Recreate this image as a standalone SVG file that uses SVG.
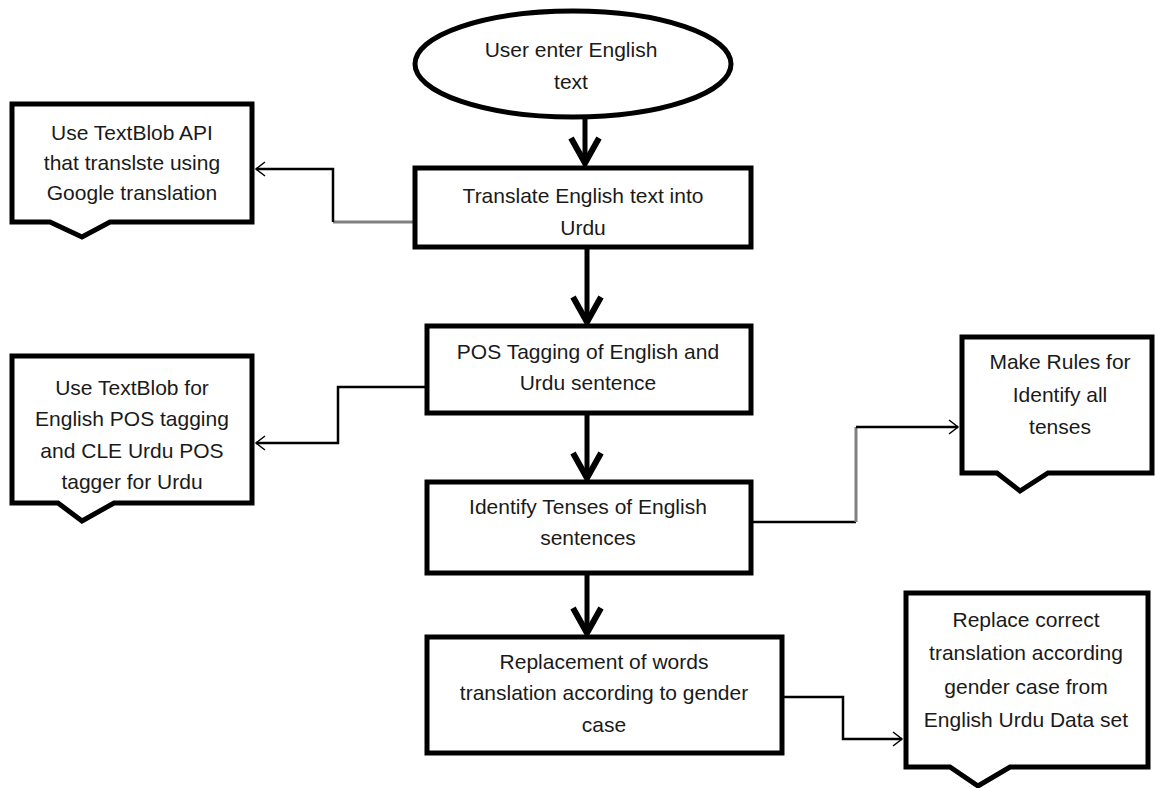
<svg xmlns="http://www.w3.org/2000/svg" width="1155" height="788" viewBox="0 0 1155 788">
<defs>
<style>
.shape{fill:#fff;stroke:#000;stroke-width:5;stroke-linejoin:miter}
.t{font-family:"Liberation Sans",Arial,sans-serif;font-size:21px;fill:#1a1a1a;text-anchor:middle}
.flow{fill:none;stroke:#000;stroke-width:5}
.head{fill:none;stroke:#000;stroke-width:6;stroke-linejoin:miter;stroke-linecap:butt}
.conn{fill:none;stroke:#000;stroke-width:2.5}
.gray{fill:none;stroke:#808080;stroke-width:3}
.open{fill:none;stroke:#000;stroke-width:1.5}
</style>
</defs>
<rect width="1155" height="788" fill="#fff"/>

<g id="connectors">
  <line class="flow" x1="585" y1="118" x2="585" y2="162"/>
  <polyline class="head" points="571,138 585,163 599,138"/>
  <line class="flow" x1="587" y1="248" x2="587" y2="321"/>
  <polyline class="head" points="573,297 587,322 601,297"/>
  <line class="flow" x1="587" y1="413" x2="587" y2="477"/>
  <polyline class="head" points="573,453 587,478 601,453"/>
  <line class="flow" x1="587" y1="573" x2="587" y2="632"/>
  <polyline class="head" points="573,608 587,633 601,608"/>
  <polyline class="gray" points="415,222 333,222"/>
  <polyline class="conn" points="333,222 333,169 256,169"/>
  <polyline class="open" points="265,162 256,169 265,176"/>
  <polyline class="conn" points="427,387 338,387 338,443 256,443"/>
  <polyline class="open" points="265,436 256,443 265,450"/>
  <polyline class="conn" points="752,522 856,522"/>
  <polyline class="gray" points="856,522 856,427"/>
  <polyline class="conn" points="856,427 958,427"/>
  <polyline class="open" points="949,420 958,427 949,434"/>
  <polyline class="conn" points="782,697 843,697 843,739 902,739"/>
  <polyline class="open" points="893,732 902,739 893,746"/>
</g>

<g id="start">
  <ellipse class="shape" cx="573" cy="64" rx="158" ry="53"/>
  <text class="t" x="571" y="57">User enter English</text>
  <text class="t" x="571" y="89">text</text>
</g>

<g id="translate">
  <rect class="shape" x="415" y="168" width="336" height="79"/>
  <text class="t" x="583" y="203">Translate English text into</text>
  <text class="t" x="583" y="235">Urdu</text>
</g>

<g id="note-textblob-api">
  <path class="shape" d="M12,104 H252 V222 H110 L82,237 L50,222 H12 Z"/>
  <text class="t" x="132" y="140">Use TextBlob API</text>
  <text class="t" x="132" y="170">that translste using</text>
  <text class="t" x="132" y="200">Google translation</text>
</g>

<g id="pos-tagging">
  <rect class="shape" x="427" y="326" width="324" height="87"/>
  <text class="t" x="588" y="359">POS Tagging of English and</text>
  <text class="t" x="588" y="390">Urdu sentence</text>
</g>

<g id="note-pos">
  <path class="shape" d="M12,356 H252 V503 H114 L82,521 L58,503 H12 Z"/>
  <text class="t" x="132" y="395">Use TextBlob for</text>
  <text class="t" x="132" y="426">English POS tagging</text>
  <text class="t" x="132" y="458">and CLE Urdu POS</text>
  <text class="t" x="132" y="489">tagger for Urdu</text>
</g>

<g id="identify-tenses">
  <rect class="shape" x="427" y="482" width="324" height="91"/>
  <text class="t" x="588" y="514">Identify Tenses of English</text>
  <text class="t" x="588" y="545">sentences</text>
</g>

<g id="note-rules">
  <path class="shape" d="M962,337 H1152 V473 H1048 L1020,491 L997,473 H962 Z"/>
  <text class="t" x="1060" y="369">Make Rules for</text>
  <text class="t" x="1060" y="402">Identify all</text>
  <text class="t" x="1060" y="434">tenses</text>
</g>

<g id="replacement">
  <rect class="shape" x="427" y="637" width="355" height="116"/>
  <text class="t" x="604" y="669">Replacement of words</text>
  <text class="t" x="604" y="700">translation according to gender</text>
  <text class="t" x="604" y="732">case</text>
</g>

<g id="note-replace">
  <path class="shape" d="M906,593 H1148 V767 H1010 L978,786 L950,767 H906 Z"/>
  <text class="t" x="1026" y="627">Replace correct</text>
  <text class="t" x="1026" y="660">translation according</text>
  <text class="t" x="1026" y="694">gender case from</text>
  <text class="t" x="1026" y="727">English Urdu Data set</text>
</g>
</svg>
